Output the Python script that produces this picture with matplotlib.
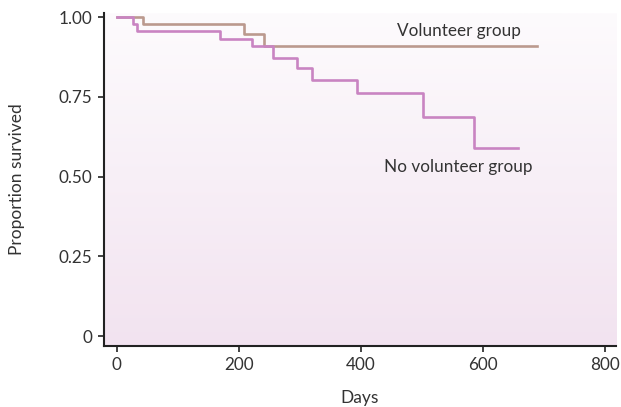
import numpy as np
import matplotlib
matplotlib.use("Agg")
import matplotlib.pyplot as plt
from matplotlib.colors import LinearSegmentedColormap

plt.rcParams['font.family'] = ['Lato', 'DejaVu Sans']

# Kaplan-Meier style survival steps
vol_days = [0, 43, 208, 241, 689]
vol_surv = [1.0, 0.980, 0.946, 0.909, 0.909]

novol_days = [0, 26, 33, 169, 221, 256, 295, 320, 393, 502, 585, 657]
novol_surv = [1.0, 0.980, 0.957, 0.931, 0.909, 0.872, 0.841, 0.803, 0.761, 0.686, 0.590, 0.590]

x_ticks = [0, 200, 400, 600, 800]
y_ticks = [0, 0.25, 0.50, 0.75, 1.00]
y_labels = ['0', '0.25', '0.50', '0.75', '1.00']

fig = plt.figure(figsize=(6.21, 4.07), dpi=100)
ax = fig.add_axes([103.5 / 621, 1 - 346 / 407, (616 - 103.5) / 621, (346 - 13) / 407])

# soft pink gradient background
cmap = LinearSegmentedColormap.from_list('bg', ['#f2e3f0', '#fdfbfd'])
grad = np.linspace(0, 1, 256).reshape(-1, 1)
ax.imshow(grad, extent=[0, 1, 0, 1], transform=ax.transAxes, cmap=cmap,
          aspect='auto', origin='lower', zorder=0)

ax.step(vol_days, vol_surv, where='post', color='#bb998e', lw=1.9, zorder=3)
ax.step(novol_days, novol_surv, where='post', color='#c984c2', lw=1.9, zorder=3)

ax.text(560, 0.958, 'Volunteer group', ha='center', va='center', fontsize=12.3, color='#333333')
ax.text(560, 0.531, 'No volunteer group', ha='center', va='center', fontsize=12.3, color='#333333')

ax.set_xlim(-22, 818)
ax.set_ylim(-0.031, 1.013)
ax.set_xticks(x_ticks)
ax.set_yticks(y_ticks)
ax.set_yticklabels(y_labels)
ax.tick_params(labelsize=12.3, colors='#333333', length=4, width=1.2, pad=4)
ax.tick_params(axis='both', color='#222222')

for side in ['top', 'right']:
    ax.spines[side].set_visible(False)
for side in ['left', 'bottom']:
    ax.spines[side].set_color('#222222')
    ax.spines[side].set_linewidth(1.5)

ax.set_xlabel('Days', fontsize=12.5, color='#333333', labelpad=12)
ax.set_ylabel('Proportion survived', fontsize=12.5, color='#333333', labelpad=24)

fig.savefig('out.png', dpi=100)
